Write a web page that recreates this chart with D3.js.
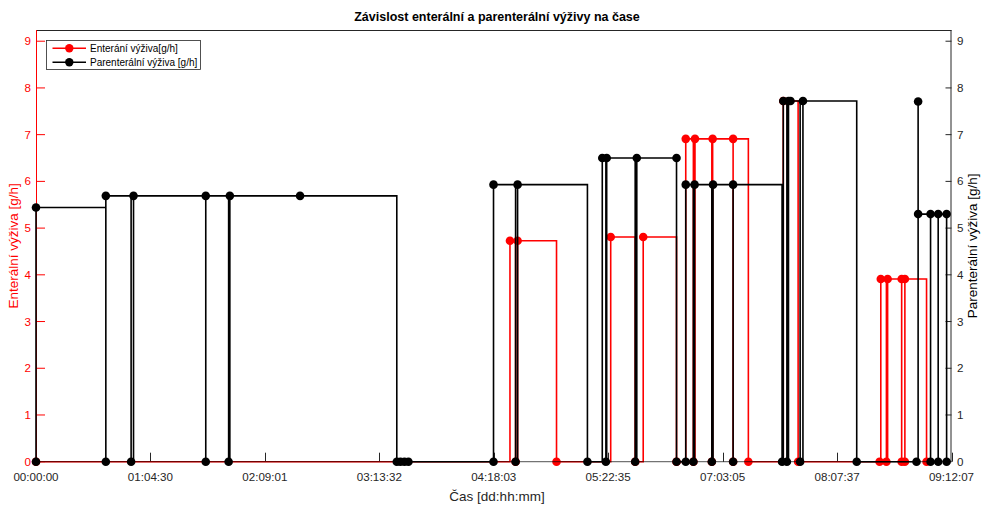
<!DOCTYPE html>
<html>
<head>
<meta charset="utf-8">
<script src="https://cdn.jsdelivr.net/npm/d3@7"></script>
<style>
  html, body { margin: 0; padding: 0; background: #fff; }
  svg { display: block; font-family: "Liberation Sans", Arial, Helvetica, sans-serif; }
</style>
</head>
<body>
<svg id="chart" width="983" height="507"></svg>
<script>
// ---------- data (time in hours from start, value in g/h) ----------
const xTickLabels = ["00:00:00","01:04:30","02:09:01","03:13:32","04:18:03","05:22:35","07:03:05","08:07:37","09:12:07"];
const timeMax = 228.117; // 09:12:07 in hours
const yTicks = [0,1,2,3,4,5,6,7,8,9];

const enteralTime  = [0, 118.1, 119.5, 120.0, 129.7, 143.2, 149.3, 151.3, 159.6, 161.9, 163.8, 164.2, 168.4, 168.6, 173.7, 173.7, 177.5, 186.2, 189.9, 210.2, 210.5, 211.9, 212.2, 215.7, 215.7, 216.5, 216.5, 221.9];
const enteralValue = [0, 4.73, 0, 4.73, 0, 4.81, 0, 4.81, 0, 6.91, 0, 6.91, 0, 6.91, 0, 6.91, 0, 7.72, 0, 0, 3.91, 0, 3.91, 0, 3.91, 0, 3.91, 0];

const parenteralTime  = [0, 0, 17.4, 17.4, 23.7, 24.3, 42.3, 42.3, 48.0, 48.3, 65.8, 89.9, 90.8, 91.8, 92.8, 114.0, 114.0, 119.5, 120.0, 137.4, 141.1, 142.0, 142.2, 149.3, 149.7, 159.6, 159.6, 161.9, 161.9, 163.8, 164.1, 168.4, 168.7, 173.7, 173.7, 185.9, 186.2, 187.1, 187.5, 188.0, 190.4, 191.1, 204.5, 219.4, 219.8, 219.8, 222.9, 222.9, 224.8, 224.8, 226.9, 226.9];
const parenteralValue = [0, 5.44, 0, 5.69, 0, 5.69, 0, 5.69, 0, 5.69, 5.69, 0, 0, 0, 0, 0, 5.93, 0, 5.93, 0, 6.50, 0, 6.50, 0, 6.50, 6.50, 0, 0, 5.93, 0, 5.93, 0, 5.93, 0, 5.93, 0, 7.72, 0, 7.72, 7.72, 0, 7.72, 0, 0, 7.71, 5.30, 0, 5.30, 0, 5.30, 0, 5.30];

const seriesNames = ["Enterání výživa[g/h]", "Parenterální výživa [g/h]"];
const titleText = "Závislost enterální a parenterální výživy na čase";
const xLabelText = "Čas [dd:hh:mm]";
const yLeftLabel = "Enterální výživa [g/h]";
const yRightLabel = "Parenterální výživa [g/h]";

// ---------- layout ----------
const svg = d3.select("#chart");
const L = 36, R = 951.5, T = 30, B = 461.7;
const x = d3.scaleLinear().domain([0, timeMax]).range([L, R]);
const y = d3.scaleLinear().domain([0, 9.24]).range([B, T]);
const RED = "#ff0000", BLK = "#000000", TXT = "#262626";

const enteral = enteralTime.map((t, i) => ({t, v: enteralValue[i]}));
const parenteral = parenteralTime.map((t, i) => ({t, v: parenteralValue[i]}));

// frame (top)
svg.append("line").attr("x1", L).attr("x2", R).attr("y1", T + 0.5).attr("y2", T + 0.5)
  .attr("stroke", TXT).attr("stroke-width", 1);

// x ticks (inside, bottom)
const xTickVals = xTickLabels.map((d, i) => i * timeMax / 8);
const gx = svg.append("g");
gx.selectAll("line").data(xTickVals).join("line")
  .attr("x1", d => Math.round(x(d)) + 0.5).attr("x2", d => Math.round(x(d)) + 0.5)
  .attr("y1", B).attr("y2", B - 9).attr("stroke", TXT).attr("stroke-width", 1);
gx.selectAll("text").data(xTickVals).join("text")
  .attr("x", d => x(d)).attr("y", 480.5).attr("text-anchor", "middle")
  .attr("font-size", 11.6).attr("fill", TXT).text((d, i) => xTickLabels[i]);

// left axis (red)
const gl = svg.append("g");
gl.append("line").attr("x1", L + 0.5).attr("x2", L + 0.5).attr("y1", T).attr("y2", B)
  .attr("stroke", RED).attr("stroke-width", 1);
gl.selectAll("line.t").data(yTicks).join("line").attr("class", "t")
  .attr("x1", L).attr("x2", L + 9).attr("y1", d => y(d)).attr("y2", d => y(d))
  .attr("stroke", RED).attr("stroke-width", 1);
gl.selectAll("text").data(yTicks).join("text")
  .attr("x", 31).attr("y", d => y(d) + 4).attr("text-anchor", "end")
  .attr("font-size", 11.6).attr("fill", RED).text(d => d);
svg.append("text").attr("transform", `translate(18,${(T + B) / 2}) rotate(-90)`)
  .attr("text-anchor", "middle").attr("font-size", 13.5).attr("fill", RED).text(yLeftLabel);

// right axis (black)
const gr = svg.append("g");
gr.append("line").attr("x1", R - 0.5).attr("x2", R - 0.5).attr("y1", T).attr("y2", B)
  .attr("stroke", TXT).attr("stroke-width", 1);
gr.selectAll("line.t").data(yTicks).join("line").attr("class", "t")
  .attr("x1", R - 6).attr("x2", R).attr("y1", d => y(d)).attr("y2", d => y(d))
  .attr("stroke", TXT).attr("stroke-width", 1);
gr.selectAll("text").data(yTicks).join("text")
  .attr("x", 957).attr("y", d => y(d) + 4).attr("text-anchor", "start")
  .attr("font-size", 11.6).attr("fill", TXT).text(d => d);
svg.append("text").attr("transform", `translate(977,${(T + B) / 2}) rotate(-90)`)
  .attr("text-anchor", "middle").attr("font-size", 13.5).attr("fill", BLK).text(yRightLabel);

// series
const stair = d3.line().x(d => x(d.t)).y(d => y(d.v)).curve(d3.curveStepAfter);
function drawSeries(data, color) {
  const g = svg.append("g");
  g.append("path").datum(data).attr("d", stair).attr("fill", "none")
    .attr("stroke", color).attr("stroke-width", 1.6);
  g.selectAll("circle").data(data).join("circle")
    .attr("cx", d => x(d.t)).attr("cy", d => y(d.v)).attr("r", 4.3).attr("fill", color);
}
drawSeries(enteral, RED);
drawSeries(parenteral, BLK);

// bottom axis line on top
svg.append("line").attr("x1", L).attr("x2", R).attr("y1", B).attr("y2", B)
  .attr("stroke", "#000").attr("stroke-opacity", 0.55).attr("stroke-width", 1.2);

// title and x label
svg.append("text").attr("x", 497).attr("y", 21).attr("text-anchor", "middle")
  .attr("font-size", 12.5).attr("font-weight", "bold").attr("fill", BLK).text(titleText);
svg.append("text").attr("x", 497).attr("y", 501).attr("text-anchor", "middle")
  .attr("font-size", 13.5).attr("fill", TXT).text(xLabelText);

// legend
const lg = svg.append("g");
lg.append("rect").attr("x", 46.5).attr("y", 40.5).attr("width", 154).attr("height", 29)
  .attr("fill", "#fff").attr("stroke", TXT).attr("stroke-width", 0.8);
const legendColors = [RED, BLK];
seriesNames.forEach((name, i) => {
  const yy = 48.3 + i * 14;
  lg.append("line").attr("x1", 52.5).attr("x2", 86).attr("y1", yy).attr("y2", yy)
    .attr("stroke", legendColors[i]).attr("stroke-width", 1.5);
  lg.append("circle").attr("cx", 69.3).attr("cy", yy).attr("r", 4.2).attr("fill", legendColors[i]);
  lg.append("text").attr("x", 90).attr("y", yy + 3.5).attr("font-size", 10).attr("fill", BLK).text(name);
});
</script>
</body>
</html>
